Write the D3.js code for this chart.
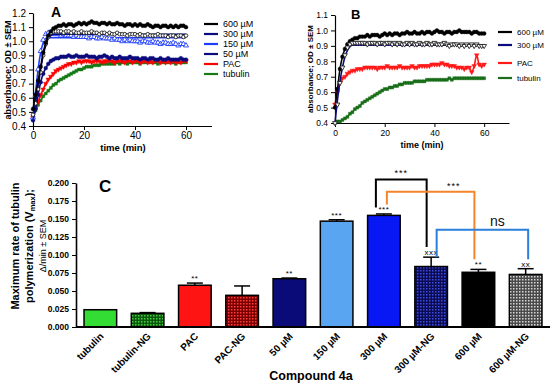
<!DOCTYPE html>
<html lang="en">
<head>
<meta charset="UTF-8">
<title>Tubulin polymerization with compound 4a</title>
<script src="https://d3js.org/d3.v7.min.js"></script>
<style>
  body { margin: 0; background: #fff; }
  svg { display: block; font-family: Arial, "Liberation Sans", sans-serif; }
  .axis path, .axis line { stroke: #000; }
  .axis text { fill: #000; }
</style>
</head>
<body>
<svg id="fig" width="550" height="386"></svg>
<script>
// ---------- data: panels A and B, one reading per minute (0..60) ----------
const minutes = d3.range(0, 61);

const a600 = [0.52,0.62,0.72,0.82,0.92,0.99,1.04,1.07,1.09,1.10,1.11,1.11,1.12,1.11,1.12,1.12,1.11,1.12,1.13,1.12,1.13,1.12,1.13,1.14,1.13,1.13,1.12,1.13,1.13,1.12,1.13,1.12,1.12,1.13,1.12,1.12,1.11,1.12,1.12,1.11,1.12,1.11,1.12,1.11,1.11,1.12,1.11,1.10,1.11,1.11,1.10,1.11,1.11,1.10,1.11,1.10,1.11,1.10,1.11,1.11,1.10];
const a300 = [0.48,0.56,0.66,0.78,0.90,0.98,1.03,1.06,1.07,1.07,1.07,1.07,1.06,1.07,1.07,1.06,1.07,1.06,1.06,1.07,1.06,1.06,1.06,1.07,1.06,1.06,1.05,1.06,1.06,1.05,1.06,1.05,1.05,1.06,1.05,1.05,1.05,1.04,1.05,1.05,1.05,1.04,1.05,1.04,1.04,1.05,1.04,1.04,1.04,1.05,1.04,1.04,1.04,1.03,1.04,1.04,1.03,1.04,1.04,1.03,1.04];
const a150 = [0.46,0.62,0.80,0.93,1.01,1.05,1.06,1.06,1.05,1.05,1.05,1.04,1.05,1.04,1.04,1.04,1.03,1.04,1.03,1.03,1.03,1.03,1.02,1.03,1.03,1.02,1.02,1.03,1.02,1.02,1.02,1.01,1.02,1.01,1.01,1.00,1.01,1.00,1.01,1.00,1.00,1.00,0.99,1.00,1.00,0.99,0.99,1.00,0.99,0.99,0.98,0.99,0.99,0.98,0.98,0.99,0.98,0.97,0.98,0.98,0.97];
const a50 = [0.44,0.52,0.62,0.71,0.77,0.81,0.84,0.86,0.87,0.88,0.88,0.89,0.89,0.89,0.90,0.89,0.89,0.90,0.89,0.89,0.89,0.90,0.89,0.89,0.89,0.88,0.89,0.89,0.90,0.89,0.88,0.89,0.88,0.88,0.89,0.88,0.88,0.88,0.89,0.88,0.88,0.88,0.87,0.88,0.88,0.87,0.88,0.88,0.87,0.87,0.88,0.87,0.87,0.88,0.87,0.87,0.87,0.87,0.88,0.87,0.87];
const aPAC = [0.46,0.52,0.57,0.62,0.66,0.70,0.73,0.75,0.77,0.79,0.80,0.81,0.82,0.83,0.84,0.84,0.85,0.85,0.86,0.85,0.86,0.86,0.86,0.85,0.86,0.86,0.86,0.85,0.86,0.86,0.86,0.86,0.85,0.86,0.86,0.86,0.85,0.86,0.86,0.85,0.86,0.86,0.85,0.86,0.86,0.85,0.86,0.85,0.86,0.86,0.85,0.86,0.85,0.86,0.85,0.86,0.85,0.86,0.85,0.86,0.86];
const aTub = [0.47,0.51,0.55,0.58,0.61,0.63,0.65,0.67,0.69,0.70,0.72,0.73,0.74,0.75,0.76,0.77,0.78,0.79,0.80,0.80,0.81,0.82,0.82,0.82,0.83,0.83,0.83,0.84,0.84,0.84,0.84,0.84,0.84,0.85,0.84,0.85,0.85,0.84,0.85,0.85,0.85,0.85,0.84,0.85,0.85,0.85,0.85,0.85,0.85,0.84,0.85,0.85,0.85,0.85,0.85,0.85,0.84,0.85,0.85,0.85,0.85];
// fitted curves drawn over the 300 and 150 µM points in A  [minute, OD]
const fitA300 = [[0,0.45],[1,0.56],[2,0.68],[3,0.80],[4,0.90],[5,0.97],[6,1.02],[7,1.04],[8,1.05],[60,1.05]];
const fitA150 = [[0,0.45],[1,0.64],[2,0.80],[3,0.92],[4,0.99],[5,1.02],[6,1.025],[60,1.025]];

const b600 = [0.50,0.62,0.75,0.83,0.88,0.91,0.93,0.94,0.95,0.95,0.96,0.96,0.96,0.97,0.96,0.97,0.97,0.97,0.96,0.97,0.98,0.97,0.98,0.97,0.98,0.98,0.97,0.98,0.98,0.99,0.98,0.98,0.99,0.98,0.98,0.99,0.98,0.99,0.99,0.98,0.99,1.00,0.99,0.99,0.98,0.99,0.99,0.98,0.99,0.99,1.00,0.99,0.99,0.99,0.99,0.98,0.99,0.99,0.98,0.98,0.98];
const b300 = [0.40,0.52,0.66,0.76,0.84,0.89,0.91,0.92,0.92,0.92,0.92,0.92,0.92,0.91,0.92,0.92,0.92,0.91,0.92,0.92,0.91,0.92,0.92,0.91,0.92,0.91,0.92,0.91,0.91,0.92,0.91,0.92,0.91,0.91,0.92,0.91,0.91,0.92,0.91,0.91,0.92,0.91,0.91,0.91,0.92,0.91,0.90,0.91,0.91,0.91,0.90,0.91,0.90,0.91,0.90,0.91,0.90,0.91,0.90,0.90,0.90];
const bPAC = [0.52,0.60,0.66,0.69,0.70,0.72,0.73,0.74,0.74,0.75,0.75,0.75,0.76,0.76,0.76,0.76,0.76,0.75,0.76,0.76,0.76,0.77,0.76,0.76,0.76,0.76,0.77,0.76,0.76,0.76,0.76,0.77,0.76,0.76,0.77,0.77,0.77,0.77,0.77,0.78,0.78,0.78,0.78,0.79,0.78,0.78,0.77,0.77,0.77,0.76,0.76,0.76,0.75,0.76,0.76,0.73,0.77,0.84,0.78,0.77,0.78];
const bTub = [0.40,0.41,0.41,0.42,0.43,0.44,0.46,0.47,0.49,0.50,0.51,0.53,0.54,0.55,0.56,0.57,0.58,0.59,0.60,0.61,0.62,0.62,0.63,0.63,0.64,0.64,0.65,0.65,0.66,0.66,0.66,0.66,0.67,0.67,0.67,0.67,0.67,0.68,0.68,0.68,0.68,0.68,0.68,0.68,0.68,0.68,0.69,0.68,0.69,0.69,0.69,0.69,0.69,0.69,0.69,0.69,0.69,0.69,0.69,0.69,0.69];
const fitB300 = [[0,0.40],[1,0.55],[2,0.67],[3,0.76],[4,0.83],[5,0.87],[6,0.895],[7,0.905],[60,0.905]];

// ---------- data: panel C (Vmax bars) ----------
const barLabels = ["tubulin","tubulin-NG","PAC","PAC-NG","50 µM","150 µM","300 µM","300 µM-NG","600 µM","600 µM-NG"];
const barValues = [0.024,0.019,0.058,0.044,0.067,0.147,0.155,0.084,0.076,0.073];
const barErrors = [0,0.001,0.003,0.013,0.001,0.002,0.002,0.013,0.004,0.008];
const barMarks  = ["","","**","","**","***","***","xxx","**","xx"];
const brackets = [
  { a: "300 µM",    b: "300 µM-NG", top: 0.205, endA: 0.166, endB: 0.111, label: "***" },
  { a: "300 µM",    b: "600 µM",    top: 0.188, endA: 0.170, endB: 0.094, label: "***" },
  { a: "300 µM-NG", b: "600 µM-NG", top: 0.135, endA: 0.097, endB: 0.094, label: "ns" }
];

const svg = d3.select("#fig");

// patterned fills for the NG bars
const defs = svg.append("defs");
function dots(id, base, dot) {
  const p = defs.append("pattern").attr("id", id).attr("patternUnits", "userSpaceOnUse")
    .attr("width", 3).attr("height", 3);
  p.append("rect").attr("width", 3).attr("height", 3).attr("fill", base);
  p.append("rect").attr("width", 1.5).attr("height", 1.5).attr("fill", dot);
}
dots("ngGreen", "#0d560d", "#3fcf3f");
dots("ngRed", "#7a0000", "#ff3a3a");
dots("ngBlue", "#0c0c52", "#3c4ce0");
dots("ngGrey", "#4a4a4a", "#d8d8d8");
const barFills = ["#33dd33","url(#ngGreen)","#ff1414","url(#ngRed)","#0a0a78","#5aa5f2","#0818f5","url(#ngBlue)","#000","url(#ngGrey)"];

// ---------- helpers ----------
function marker(type, size) {
  return d3.symbol().type(type).size(size);
}
function plotSeries(g, x, y, vals, s) {
  const pts = vals.map((v, i) => [minutes[i], v]);
  const line = d3.line().x(d => x(d[0])).y(d => y(d[1])).curve(d3.curveMonotoneX);
  if (s.fit !== false) {
    g.append("path").datum(s.fit || pts).attr("d", line)
      .attr("fill", "none").attr("stroke", s.lineColor || s.color).attr("stroke-width", 1.6);
  }
  g.append("g").selectAll("path").data(pts).enter().append("path")
    .attr("d", marker(s.shape, s.size)())
    .attr("transform", d => `translate(${x(d[0])},${y(d[1])})` + (s.flip ? " rotate(180)" : ""))
    .attr("fill", s.open ? "#fff" : s.color)
    .attr("stroke", s.color).attr("stroke-width", s.open ? 0.9 : 0.4);
}
function legend(g, items, x0, ys, fs) {
  items.forEach((it, i) => {
    g.append("line").attr("x1", x0).attr("x2", x0 + 14).attr("y1", ys[i]).attr("y2", ys[i])
      .attr("stroke", it[1]).attr("stroke-width", 2.2);
    g.append("text").attr("x", x0 + 19).attr("y", ys[i]).attr("dy", "0.35em")
      .attr("font-size", fs).text(it[0]);
  });
}

// ---------- panel A ----------
{
  const x = d3.scaleLinear().domain([0, 70]).range([33, 211.5]);
  const y = d3.scaleLinear().domain([0.4, 1.2]).range([126, 13]);
  const g = svg.append("g");
  g.append("g").attr("class", "axis").attr("transform", "translate(0,126)")
    .call(d3.axisBottom(x).tickValues([0, 20, 40, 60]).tickSize(4).tickPadding(2).tickSizeOuter(0))
    .selectAll("text").attr("font-size", 10);
  g.append("g").attr("class", "axis").attr("transform", "translate(33,0)")
    .call(d3.axisLeft(y).ticks(8).tickFormat(d3.format(".1f")).tickSize(4).tickSizeOuter(0))
    .selectAll("text").attr("font-size", 10);
  g.selectAll(".axis path").attr("stroke-width", 1.2);
  g.append("text").attr("x", 123).attr("y", 151).attr("text-anchor", "middle")
    .attr("font-size", 9.5).attr("font-weight", "bold").text("time (min)");
  g.append("text").attr("transform", "translate(11,70) rotate(-90)").attr("text-anchor", "middle")
    .attr("font-size", 9).attr("font-weight", "bold").text("absorbance; OD ± SEM");
  g.append("text").attr("x", 51).attr("y", 17).attr("font-size", 14).attr("font-weight", "bold").text("A");

  plotSeries(g, x, y, aTub, { color: "#167a16", shape: d3.symbolSquare, size: 9 });
  plotSeries(g, x, y, aPAC, { color: "#ff0000", shape: d3.symbolTriangle, size: 10, flip: true });
  plotSeries(g, x, y, a50, { color: "#0b0b7d", shape: d3.symbolCircle, size: 12 });
  plotSeries(g, x, y, a150, { color: "#1f3cff", shape: d3.symbolTriangle, size: 11, open: true, fit: fitA150 });
  plotSeries(g, x, y, a300, { color: "#222", lineColor: "#0b0b7d", shape: d3.symbolCircle, size: 10, open: true, fit: fitA300 });
  plotSeries(g, x, y, a600, { color: "#000", shape: d3.symbolCircle, size: 12 });

  legend(g, [["600 µM","#000"],["300 µM","#0b0b7d"],["150 µM","#1f3cff"],["50 µM","#0b0b7d"],["PAC","#ff0000"],[" tubulin","#167a16"]],
    204, [24, 34, 44, 54, 64, 74], 9);
}

// ---------- panel B ----------
{
  const x = d3.scaleLinear().domain([0, 70]).range([335, 509]);
  const y = d3.scaleLinear().domain([0.4, 1.1]).range([123, 15]);
  const g = svg.append("g");
  g.append("g").attr("class", "axis").attr("transform", "translate(0,123)")
    .call(d3.axisBottom(x).tickValues([0, 20, 40, 60]).tickSize(4).tickSizeOuter(0))
    .selectAll("text").attr("font-size", 8.5);
  g.append("g").attr("class", "axis").attr("transform", "translate(335,0)")
    .call(d3.axisLeft(y).ticks(7).tickFormat(d3.format(".1f")).tickSize(4).tickSizeOuter(0))
    .selectAll("text").attr("font-size", 8.5);
  g.selectAll(".axis path").attr("stroke-width", 1.2);
  g.append("text").attr("x", 422).attr("y", 148).attr("text-anchor", "middle")
    .attr("font-size", 9).attr("font-weight", "bold").text("time (min)");
  g.append("text").attr("transform", "translate(313,69) rotate(-90)").attr("text-anchor", "middle")
    .attr("font-size", 8).attr("font-weight", "bold").text("absorbance; OD ± SEM");
  g.append("text").attr("x", 351).attr("y", 19).attr("font-size", 13).attr("font-weight", "bold").text("B");

  plotSeries(g, x, y, bTub, { color: "#1a6e1a", shape: d3.symbolSquare, size: 9 });
  plotSeries(g, x, y, bPAC, { color: "#ff1a1a", shape: d3.symbolTriangle, size: 10, flip: true });
  plotSeries(g, x, y, b600, { color: "#000", shape: d3.symbolCircle, size: 12 });
  plotSeries(g, x, y, b300, { color: "#222", lineColor: "#0b0b7d", shape: d3.symbolTriangle, size: 10, open: true, flip: true, fit: fitB300 });

  legend(g, [["600 µM","#000"],["300 µM","#0b0b7d"],["PAC","#ff1a1a"],["tubulin","#1a6e1a"]],
    498, [32, 45, 63, 78], 8);
}

// ---------- panel C ----------
{
  const x = d3.scaleBand().domain(barLabels).range([76, 550]).paddingInner(0.31).paddingOuter(0.17);
  const y = d3.scaleLinear().domain([0, 0.2]).range([327, 183]);
  const g = svg.append("g");
  const bw = x.bandwidth();
  const cx = d => x(d) + bw / 2;

  g.append("g").attr("class", "axis").attr("transform", "translate(76,0)")
    .call(d3.axisLeft(y).tickValues(d3.range(0, 0.2001, 0.025)).tickFormat(d3.format(".3f")).tickSize(4).tickSizeOuter(0))
    .call(a => a.selectAll("text").attr("font-size", 8.5).attr("font-weight", "bold"))
    .call(a => a.select("path").attr("stroke-width", 1.6));

  g.selectAll("rect.bar").data(barLabels).enter().append("rect").attr("class", "bar")
    .attr("x", d => x(d)).attr("width", bw)
    .attr("y", (d, i) => y(barValues[i])).attr("height", (d, i) => y(0) - y(barValues[i]))
    .attr("fill", (d, i) => barFills[i]).attr("stroke", "#000").attr("stroke-width", 1.5);

  // upward error bars
  barLabels.forEach((d, i) => {
    if (!barErrors[i]) return;
    const top = y(barValues[i] + barErrors[i]);
    g.append("line").attr("x1", cx(d)).attr("x2", cx(d)).attr("y1", y(barValues[i])).attr("y2", top)
      .attr("stroke", "#000").attr("stroke-width", 1.5);
    g.append("line").attr("x1", cx(d) - 8).attr("x2", cx(d) + 8).attr("y1", top).attr("y2", top)
      .attr("stroke", "#000").attr("stroke-width", 1.5);
    if (barMarks[i]) {
      g.append("text").attr("x", cx(d)).attr("y", top - 2).attr("text-anchor", "middle")
        .attr("font-size", 8).attr("letter-spacing", 0.5).text(barMarks[i]);
    }
  });

  // x axis line and rotated category labels
  g.append("line").attr("x1", 76).attr("x2", 550).attr("y1", y(0)).attr("y2", y(0))
    .attr("stroke", "#000").attr("stroke-width", 2);
  g.selectAll("text.cat").data(barLabels).enter().append("text").attr("class", "cat")
    .attr("transform", d => `translate(${cx(d) + 4},${y(0) + 10}) rotate(-45)`)
    .attr("text-anchor", "end").attr("font-size", 10).attr("font-weight", "bold").text(d => d);

  g.append("text").attr("x", 311).attr("y", 380).attr("text-anchor", "middle")
    .attr("font-size", 12.5).attr("font-weight", "bold").text("Compound 4a");
  g.append("text").attr("x", 99).attr("y", 192).attr("font-size", 17).attr("font-weight", "bold").text("C");

  // y-axis title, three lines
  const yl = g.append("text").attr("transform", "translate(0,246) rotate(-90)").attr("text-anchor", "middle")
    .attr("font-weight", "bold");
  yl.append("tspan").attr("x", 0).attr("y", 19).attr("font-size", 11).text("Maximum rate of tubulin");
  const t2 = yl.append("tspan").attr("x", 0).attr("y", 33).attr("font-size", 11);
  t2.append("tspan").text("polymerization (V");
  t2.append("tspan").attr("font-size", 7.5).attr("dy", 2).text("max");
  t2.append("tspan").attr("dy", -2).text(");");
  yl.append("tspan").attr("x", 0).attr("y", 46).attr("font-size", 9).attr("font-weight", "normal").text("Δ/min ± SEM");

  // significance brackets
  const bColors = ["#000", "#f5852a", "#2b7fd8"];
  const bDx = [[-8, -4.5], [3, -4], [5.5, 2.5]];
  const labelDx = [0, 23, 15];
  brackets.forEach((b, i) => {
    const xa = cx(b.a) + bDx[i][0], xb = cx(b.b) + bDx[i][1];
    g.append("path")
      .attr("d", `M${xa},${y(b.endA)}V${y(b.top)}H${xb}V${y(b.endB)}`)
      .attr("fill", "none").attr("stroke", bColors[i]).attr("stroke-width", 2);
    const ns = b.label === "ns";
    g.append("text").attr("x", (xa + xb) / 2 + labelDx[i]).attr("y", y(b.top) - (ns ? 4 : 3))
      .attr("text-anchor", "middle").attr("font-size", ns ? 14 : 9)
      .attr("letter-spacing", ns ? 0 : 1).attr("fill", ns ? "#111" : "#000")
      .text(b.label);
  });
}
</script>
</body>
</html>
